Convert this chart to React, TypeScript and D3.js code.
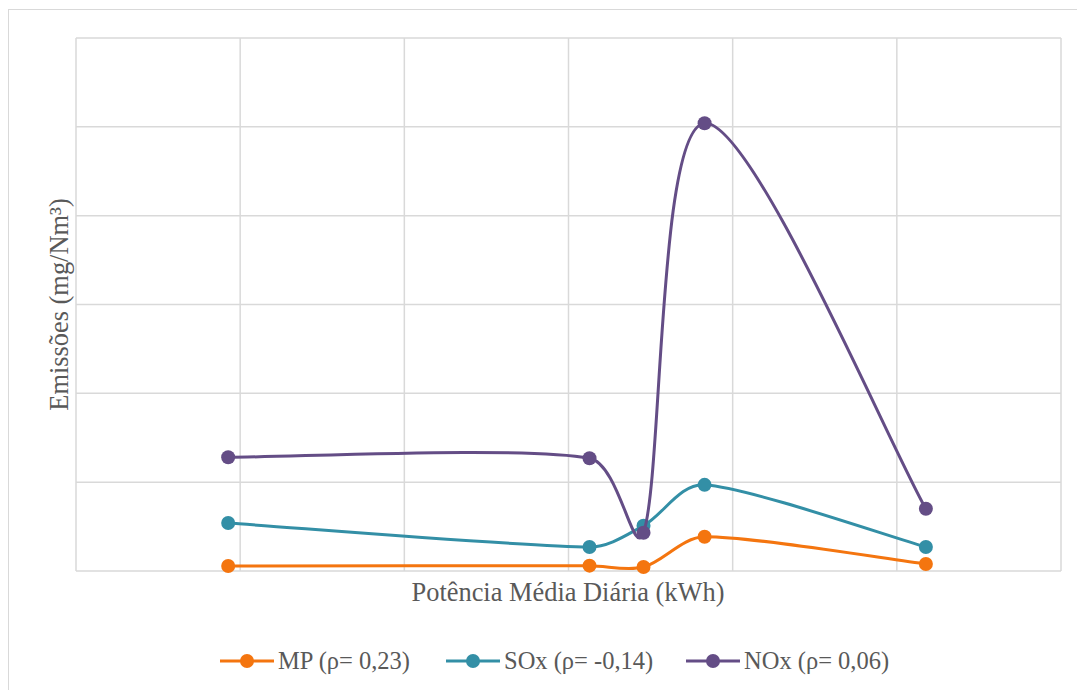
import React from "react";
import * as d3 from "d3";

const xValues = [92.7, 312.8, 345.7, 382.9, 517.7];
const mpValues = [0.56, 0.6, 0.45, 3.85, 0.79];
const soxValues = [5.4, 2.7, 5.1, 9.7, 2.7];
const noxValues = [12.8, 12.7, 4.3, 50.4, 7.0];
const seriesNames = ["MP (ρ= 0,23)", "SOx (ρ= -0,14)", "NOx (ρ= 0,06)"];
const seriesColors = ["#f4750f", "#338fa6", "#644d86"];
const xTicks = [0, 100, 200, 300, 400, 500, 600];
const yTicks = [0, 10, 20, 30, 40, 50, 60];

const W = 1077;
const H = 690;
const M = { left: 76, top: 38, right: 1061, bottom: 571 };

// Excel-like smoothed line: Bezier with 1/6 tangent arms, arms clamped relative to chord
function smoothPath(pts: [number, number][]): string {
  const p = d3.path();
  const n = pts.length;
  if (n === 0) return "";
  p.moveTo(pts[0][0], pts[0][1]);
  const k = 0.33;
  for (let i = 0; i < n - 1; i++) {
    const p0 = pts[Math.max(0, i - 1)];
    const p1 = pts[i];
    const p2 = pts[i + 1];
    const p3 = pts[Math.min(n - 1, i + 2)];
    const chord = Math.hypot(p2[0] - p1[0], p2[1] - p1[1]);
    let a1x = (p2[0] - p0[0]) / 6;
    let a1y = (p2[1] - p0[1]) / 6;
    let a2x = (p3[0] - p1[0]) / 6;
    let a2y = (p3[1] - p1[1]) / 6;
    const l1 = Math.hypot(a1x, a1y);
    const l2 = Math.hypot(a2x, a2y);
    const max = k * chord;
    if (l1 > max && l1 > 0) {
      a1x *= max / l1;
      a1y *= max / l1;
    }
    if (l2 > max && l2 > 0) {
      a2x *= max / l2;
      a2y *= max / l2;
    }
    p.bezierCurveTo(p1[0] + a1x, p1[1] + a1y, p2[0] - a2x, p2[1] - a2y, p2[0], p2[1]);
  }
  return p.toString();
}

export default function App() {
  const x = d3.scaleLinear().domain([0, 600]).range([M.left, M.right]);
  const y = d3.scaleLinear().domain([0, 60]).range([M.bottom, M.top]);
  const series = [mpValues, soxValues, noxValues].map((vals, i) => ({
    name: seriesNames[i],
    color: seriesColors[i],
    pts: vals.map((v, j) => [xValues[j], v] as [number, number]),
  }));
  const legendX = [220, 446, 686];
  const legendY = 661;
  const titleStyle = {
    fontFamily: "Liberation Serif",
    fontSize: "26.4px",
    fill: "#595959",
  };
  const legendStyle = {
    fontFamily: "Liberation Serif",
    fontSize: "24.5px",
    fill: "#595959",
  };
  return (
    <svg
      width={W}
      height={H}
      style={{ position: "absolute", left: 0, top: 0, display: "block" }}
    >
      <rect x={0} y={0} width={W} height={H} fill="#fff" />
      <rect x={8.5} y={9.5} width={W + 20} height={H + 20} fill="#fff" stroke="#d9d9d9" strokeWidth={1} />
      {yTicks.map((t) => (
        <line key={"h" + t} x1={M.left} x2={M.right} y1={y(t)} y2={y(t)} stroke="#d9d9d9" strokeWidth={1.5} />
      ))}
      {xTicks.map((t) => (
        <line key={"v" + t} x1={x(t)} x2={x(t)} y1={M.top} y2={M.bottom} stroke="#d9d9d9" strokeWidth={1.5} />
      ))}
      {series.map((s) => (
        <g key={s.name}>
          <path
            d={smoothPath(s.pts.map((d) => [x(d[0]), y(d[1])] as [number, number]))}
            fill="none"
            stroke={s.color}
            strokeWidth={3}
            strokeLinecap="round"
          />
          {s.pts.map((d, j) => (
            <circle key={j} cx={x(d[0])} cy={y(d[1])} r={7} fill={s.color} />
          ))}
        </g>
      ))}
      <text x={568} y={601} textAnchor="middle" style={titleStyle}>
        Potência Média Diária (kWh)
      </text>
      <text
        transform={`translate(68,${(M.top + M.bottom) / 2}) rotate(-90)`}
        textAnchor="middle"
        style={titleStyle}
      >
        Emissões (mg/Nm³)
      </text>
      {series.map((s, i) => (
        <g key={"l" + i} transform={`translate(${legendX[i]},${legendY})`}>
          <line x1={0} x2={54} y1={0} y2={0} stroke={s.color} strokeWidth={3} />
          <circle cx={27} cy={0} r={7} fill={s.color} />
          <text x={58} y={8} style={legendStyle}>
            {s.name}
          </text>
        </g>
      ))}
    </svg>
  );
}
